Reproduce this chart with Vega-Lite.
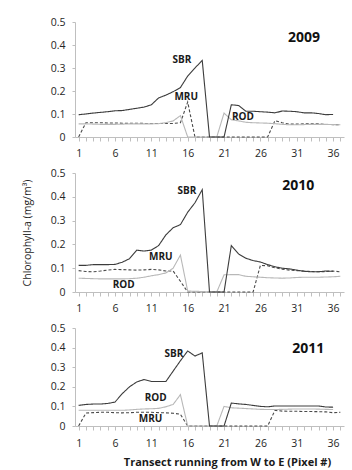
{
  "$schema": "https://vega.github.io/schema/vega-lite/v6.json",
  "background": "white",
  "padding": {"left": 22, "top": 17, "right": 2, "bottom": 2},
  "spacing": 36,
  "bounds": "flush",
  "datasets": {
    "wide": [
      {"year":2009,"x":1,"SBR":0.097,"ROD":0.057,"MRU":0},
      {"year":2009,"x":2,"SBR":0.100,"ROD":0.057,"MRU":0.062},
      {"year":2009,"x":3,"SBR":0.104,"ROD":0.056,"MRU":0.062},
      {"year":2009,"x":4,"SBR":0.107,"ROD":0.055,"MRU":0.062},
      {"year":2009,"x":5,"SBR":0.110,"ROD":0.055,"MRU":0.061},
      {"year":2009,"x":6,"SBR":0.114,"ROD":0.055,"MRU":0.061},
      {"year":2009,"x":7,"SBR":0.115,"ROD":0.056,"MRU":0.060},
      {"year":2009,"x":8,"SBR":0.120,"ROD":0.057,"MRU":0.060},
      {"year":2009,"x":9,"SBR":0.125,"ROD":0.057,"MRU":0.060},
      {"year":2009,"x":10,"SBR":0.130,"ROD":0.057,"MRU":0.059},
      {"year":2009,"x":11,"SBR":0.140,"ROD":0.057,"MRU":0.059},
      {"year":2009,"x":12,"SBR":0.170,"ROD":0.058,"MRU":0.059},
      {"year":2009,"x":13,"SBR":0.182,"ROD":0.062,"MRU":0.059},
      {"year":2009,"x":14,"SBR":0.197,"ROD":0.070,"MRU":0.059},
      {"year":2009,"x":15,"SBR":0.215,"ROD":0.093,"MRU":0.062},
      {"year":2009,"x":16,"SBR":0.265,"ROD":0,"MRU":0.152},
      {"year":2009,"x":17,"SBR":0.300,"ROD":0,"MRU":0},
      {"year":2009,"x":18,"SBR":0.333,"ROD":0,"MRU":0},
      {"year":2009,"x":19,"SBR":0,"ROD":0,"MRU":0},
      {"year":2009,"x":20,"SBR":0,"ROD":0,"MRU":0},
      {"year":2009,"x":21,"SBR":0,"ROD":0.104,"MRU":0},
      {"year":2009,"x":22,"SBR":0.140,"ROD":0.075,"MRU":0},
      {"year":2009,"x":23,"SBR":0.137,"ROD":0.070,"MRU":0},
      {"year":2009,"x":24,"SBR":0.112,"ROD":0.064,"MRU":0},
      {"year":2009,"x":25,"SBR":0.112,"ROD":0.062,"MRU":0},
      {"year":2009,"x":26,"SBR":0.110,"ROD":0.061,"MRU":0},
      {"year":2009,"x":27,"SBR":0.108,"ROD":0.060,"MRU":0},
      {"year":2009,"x":28,"SBR":0.105,"ROD":0.058,"MRU":0.071},
      {"year":2009,"x":29,"SBR":0.113,"ROD":0.055,"MRU":0.062},
      {"year":2009,"x":30,"SBR":0.112,"ROD":0.053,"MRU":0.056},
      {"year":2009,"x":31,"SBR":0.110,"ROD":0.053,"MRU":0.056},
      {"year":2009,"x":32,"SBR":0.105,"ROD":0.054,"MRU":0.057},
      {"year":2009,"x":33,"SBR":0.105,"ROD":0.055,"MRU":0.057},
      {"year":2009,"x":34,"SBR":0.102,"ROD":0.055,"MRU":0.057},
      {"year":2009,"x":35,"SBR":0.097,"ROD":0.055,"MRU":0.055},
      {"year":2009,"x":36,"SBR":0.098,"ROD":0.054,"MRU":0.054},
      {"year":2009,"x":37,"ROD":0.053,"MRU":0.053},
      {"year":2010,"x":1,"SBR":0.112,"ROD":0.058,"MRU":0.090},
      {"year":2010,"x":2,"SBR":0.112,"ROD":0.057,"MRU":0.086},
      {"year":2010,"x":3,"SBR":0.115,"ROD":0.056,"MRU":0.085},
      {"year":2010,"x":4,"SBR":0.115,"ROD":0.055,"MRU":0.088},
      {"year":2010,"x":5,"SBR":0.115,"ROD":0.055,"MRU":0.092},
      {"year":2010,"x":6,"SBR":0.116,"ROD":0.055,"MRU":0.095},
      {"year":2010,"x":7,"SBR":0.125,"ROD":0.055,"MRU":0.094},
      {"year":2010,"x":8,"SBR":0.140,"ROD":0.056,"MRU":0.093},
      {"year":2010,"x":9,"SBR":0.176,"ROD":0.058,"MRU":0.092},
      {"year":2010,"x":10,"SBR":0.172,"ROD":0.062,"MRU":0.093},
      {"year":2010,"x":11,"SBR":0.176,"ROD":0.068,"MRU":0.095},
      {"year":2010,"x":12,"SBR":0.195,"ROD":0.073,"MRU":0.093},
      {"year":2010,"x":13,"SBR":0.240,"ROD":0.080,"MRU":0.088},
      {"year":2010,"x":14,"SBR":0.270,"ROD":0.100,"MRU":0.088},
      {"year":2010,"x":15,"SBR":0.283,"ROD":0.155,"MRU":0.045},
      {"year":2010,"x":16,"SBR":0.335,"ROD":0.004,"MRU":0},
      {"year":2010,"x":17,"SBR":0.375,"ROD":0.003,"MRU":0},
      {"year":2010,"x":18,"SBR":0.430,"ROD":0.002,"MRU":0},
      {"year":2010,"x":19,"SBR":0,"ROD":0,"MRU":0},
      {"year":2010,"x":20,"SBR":0,"ROD":0,"MRU":0},
      {"year":2010,"x":21,"SBR":0,"ROD":0.072,"MRU":0},
      {"year":2010,"x":22,"SBR":0.195,"ROD":0.073,"MRU":0},
      {"year":2010,"x":23,"SBR":0.160,"ROD":0.073,"MRU":0},
      {"year":2010,"x":24,"SBR":0.142,"ROD":0.066,"MRU":0},
      {"year":2010,"x":25,"SBR":0.132,"ROD":0.064,"MRU":0},
      {"year":2010,"x":26,"SBR":0.126,"ROD":0.062,"MRU":0.112},
      {"year":2010,"x":27,"SBR":0.115,"ROD":0.060,"MRU":0.110},
      {"year":2010,"x":28,"SBR":0.106,"ROD":0.059,"MRU":0.102},
      {"year":2010,"x":29,"SBR":0.100,"ROD":0.058,"MRU":0.096},
      {"year":2010,"x":30,"SBR":0.097,"ROD":0.059,"MRU":0.092},
      {"year":2010,"x":31,"SBR":0.092,"ROD":0.061,"MRU":0.090},
      {"year":2010,"x":32,"SBR":0.087,"ROD":0.062,"MRU":0.088},
      {"year":2010,"x":33,"SBR":0.085,"ROD":0.062,"MRU":0.086},
      {"year":2010,"x":34,"SBR":0.085,"ROD":0.062,"MRU":0.085},
      {"year":2010,"x":35,"SBR":0.088,"ROD":0.063,"MRU":0.086},
      {"year":2010,"x":36,"SBR":0.087,"ROD":0.064,"MRU":0.088},
      {"year":2010,"x":37,"ROD":0.066,"MRU":0.085},
      {"year":2011,"x":1,"SBR":0.105,"ROD":0.080,"MRU":0},
      {"year":2011,"x":2,"SBR":0.110,"ROD":0.080,"MRU":0.066},
      {"year":2011,"x":3,"SBR":0.112,"ROD":0.080,"MRU":0.068},
      {"year":2011,"x":4,"SBR":0.112,"ROD":0.080,"MRU":0.070},
      {"year":2011,"x":5,"SBR":0.115,"ROD":0.080,"MRU":0.070},
      {"year":2011,"x":6,"SBR":0.122,"ROD":0.080,"MRU":0.068},
      {"year":2011,"x":7,"SBR":0.165,"ROD":0.080,"MRU":0.067},
      {"year":2011,"x":8,"SBR":0.200,"ROD":0.082,"MRU":0.068},
      {"year":2011,"x":9,"SBR":0.225,"ROD":0.085,"MRU":0.070},
      {"year":2011,"x":10,"SBR":0.237,"ROD":0.087,"MRU":0.070},
      {"year":2011,"x":11,"SBR":0.227,"ROD":0.088,"MRU":0.070},
      {"year":2011,"x":12,"SBR":0.227,"ROD":0.090,"MRU":0.068},
      {"year":2011,"x":13,"SBR":0.227,"ROD":0.098,"MRU":0.067},
      {"year":2011,"x":14,"SBR":0.280,"ROD":0.110,"MRU":0.065},
      {"year":2011,"x":15,"SBR":0.333,"ROD":0.160,"MRU":0.060},
      {"year":2011,"x":16,"SBR":0.383,"ROD":0,"MRU":0},
      {"year":2011,"x":17,"SBR":0.357,"ROD":0,"MRU":0},
      {"year":2011,"x":18,"SBR":0.373,"ROD":0,"MRU":0},
      {"year":2011,"x":19,"SBR":0,"ROD":0,"MRU":0},
      {"year":2011,"x":20,"SBR":0,"ROD":0,"MRU":0},
      {"year":2011,"x":21,"SBR":0,"ROD":0.100,"MRU":0},
      {"year":2011,"x":22,"SBR":0.117,"ROD":0.093,"MRU":0},
      {"year":2011,"x":23,"SBR":0.113,"ROD":0.091,"MRU":0},
      {"year":2011,"x":24,"SBR":0.110,"ROD":0.089,"MRU":0},
      {"year":2011,"x":25,"SBR":0.105,"ROD":0.087,"MRU":0},
      {"year":2011,"x":26,"SBR":0.100,"ROD":0.085,"MRU":0},
      {"year":2011,"x":27,"SBR":0.098,"ROD":0.084,"MRU":0},
      {"year":2011,"x":28,"SBR":0.102,"ROD":0.084,"MRU":0.080},
      {"year":2011,"x":29,"SBR":0.102,"ROD":0.085,"MRU":0.076},
      {"year":2011,"x":30,"SBR":0.102,"ROD":0.086,"MRU":0.075},
      {"year":2011,"x":31,"SBR":0.102,"ROD":0.087,"MRU":0.075},
      {"year":2011,"x":32,"SBR":0.102,"ROD":0.087,"MRU":0.074},
      {"year":2011,"x":33,"SBR":0.102,"ROD":0.087,"MRU":0.074},
      {"year":2011,"x":34,"SBR":0.102,"ROD":0.086,"MRU":0.073},
      {"year":2011,"x":35,"SBR":0.097,"ROD":0.085,"MRU":0.072},
      {"year":2011,"x":36,"SBR":0.096,"ROD":0.084,"MRU":0.068},
      {"year":2011,"x":37,"MRU":0.070}
    ],
    "labels": [
      {"year":2009,"x":15.2,"v":0.335,"label":"SBR"},
      {"year":2009,"x":15.8,"v":0.174,"label":"MRU"},
      {"year":2009,"x":23.6,"v":0.087,"label":"ROD"},
      {"year":2010,"x":15.9,"v":0.424,"label":"SBR"},
      {"year":2010,"x":12.3,"v":0.148,"label":"MRU"},
      {"year":2010,"x":7.2,"v":0.030,"label":"ROD"},
      {"year":2011,"x":14.1,"v":0.365,"label":"SBR"},
      {"year":2011,"x":11.6,"v":0.145,"label":"ROD"},
      {"year":2011,"x":10.9,"v":0.035,"label":"MRU"}
    ],
    "years": [
      {"year":2009,"x":32.0,"v":0.430,"label":"2009"},
      {"year":2010,"x":31.2,"v":0.445,"label":"2010"},
      {"year":2011,"x":32.6,"v":0.395,"label":"2011"}
    ]
  },
  "vconcat": [
    {
      "width": 269, "height": 115,
      "encoding": {
        "x": {"field": "x", "type": "quantitative", "scale": {"domain": [0.5, 37.5], "nice": false, "zero": false},
          "axis": {"values": [1,2,3,4,5,6,7,8,9,10,11,12,13,14,15,16,17,18,19,20,21,22,23,24,25,26,27,28,29,30,31,32,33,34,35,36,37], "labelExpr": "(datum.value - 1) % 5 == 0 ? datum.label : ''", "title": null, "tickSize": 4, "labelPadding": 7, "labelOverlap": false, "labelFlush": false, "labelBound": false}},
        "y": {"field": "v", "type": "quantitative", "scale": {"domain": [0, 0.5], "nice": false},
          "axis": {"values": [0, 0.1, 0.2, 0.3, 0.4, 0.5], "format": ".1~f", "title": null, "tickSize": 3, "labelPadding": 7, "labelOverlap": false}}
      },
      "layer": [
        {
          "data": {"name": "wide"},
          "transform": [{"filter": "datum.year == 2009"}, {"fold": ["MRU", "ROD", "SBR"], "as": ["series", "v"]}],
          "mark": {"type": "line", "strokeWidth": 1.1},
          "encoding": {
            "color": {"field": "series", "type": "nominal", "scale": {"domain": ["SBR", "ROD", "MRU"], "range": ["#3c3c3c", "#b8b8b8", "#4a4a4a"]}, "legend": null},
            "strokeDash": {"field": "series", "type": "nominal", "scale": {"domain": ["SBR", "ROD", "MRU"], "range": [[1, 0], [1, 0], [3, 2]]}, "legend": null}
          }
        },
        {
          "data": {"name": "labels"},
          "transform": [{"filter": "datum.year == 2009"}],
          "mark": {"type": "text", "fontWeight": "bold", "fontSize": 10, "color": "#1a1a1a"},
          "encoding": {"text": {"field": "label"}}
        },
        {
          "data": {"name": "years"},
          "transform": [{"filter": "datum.year == 2009"}],
          "mark": {"type": "text", "fontWeight": "bold", "fontSize": 14, "color": "#111111"},
          "encoding": {"text": {"field": "label"}}
        }
      ]
    },
    {
      "width": 269, "height": 119,
      "encoding": {
        "x": {"field": "x", "type": "quantitative", "scale": {"domain": [0.5, 37.5], "nice": false, "zero": false},
          "axis": {"values": [1,2,3,4,5,6,7,8,9,10,11,12,13,14,15,16,17,18,19,20,21,22,23,24,25,26,27,28,29,30,31,32,33,34,35,36,37], "labelExpr": "(datum.value - 1) % 5 == 0 ? datum.label : ''", "title": null, "tickSize": 4, "labelPadding": 7, "labelOverlap": false, "labelFlush": false, "labelBound": false}},
        "y": {"field": "v", "type": "quantitative", "scale": {"domain": [0, 0.5], "nice": false},
          "axis": {"values": [0, 0.1, 0.2, 0.3, 0.4, 0.5], "format": ".1~f", "title": "Chlorophyll-a (mg/m³)", "titleFontWeight": "normal", "titleFontSize": 10.5, "titleColor": "#262626", "titlePadding": 18, "tickSize": 3, "labelPadding": 7, "labelOverlap": false}}
      },
      "layer": [
        {
          "data": {"name": "wide"},
          "transform": [{"filter": "datum.year == 2010"}, {"fold": ["MRU", "ROD", "SBR"], "as": ["series", "v"]}],
          "mark": {"type": "line", "strokeWidth": 1.1},
          "encoding": {
            "color": {"field": "series", "type": "nominal", "scale": {"domain": ["SBR", "ROD", "MRU"], "range": ["#3c3c3c", "#b8b8b8", "#4a4a4a"]}, "legend": null},
            "strokeDash": {"field": "series", "type": "nominal", "scale": {"domain": ["SBR", "ROD", "MRU"], "range": [[1, 0], [1, 0], [3, 2]]}, "legend": null}
          }
        },
        {
          "data": {"name": "labels"},
          "transform": [{"filter": "datum.year == 2010"}],
          "mark": {"type": "text", "fontWeight": "bold", "fontSize": 10, "color": "#1a1a1a"},
          "encoding": {"text": {"field": "label"}}
        },
        {
          "data": {"name": "years"},
          "transform": [{"filter": "datum.year == 2010"}],
          "mark": {"type": "text", "fontWeight": "bold", "fontSize": 14, "color": "#111111"},
          "encoding": {"text": {"field": "label"}}
        }
      ]
    },
    {
      "width": 269, "height": 98,
      "encoding": {
        "x": {"field": "x", "type": "quantitative", "scale": {"domain": [0.5, 37.5], "nice": false, "zero": false},
          "axis": {"values": [1,2,3,4,5,6,7,8,9,10,11,12,13,14,15,16,17,18,19,20,21,22,23,24,25,26,27,28,29,30,31,32,33,34,35,36,37], "labelExpr": "(datum.value - 1) % 5 == 0 ? datum.label : ''", "title": "Transect running from W to E (Pixel #)", "titleFontWeight": "bold", "titleFontSize": 11, "titleColor": "#1a1a1a", "titlePadding": 8, "titleX": 152, "tickSize": 4, "labelPadding": 8, "labelOverlap": false, "labelFlush": false, "labelBound": false}},
        "y": {"field": "v", "type": "quantitative", "scale": {"domain": [0, 0.5], "nice": false},
          "axis": {"values": [0, 0.1, 0.2, 0.3, 0.4, 0.5], "format": ".1~f", "title": null, "tickSize": 3, "labelPadding": 7, "labelOverlap": false}}
      },
      "layer": [
        {
          "data": {"name": "wide"},
          "transform": [{"filter": "datum.year == 2011"}, {"fold": ["MRU", "ROD", "SBR"], "as": ["series", "v"]}],
          "mark": {"type": "line", "strokeWidth": 1.1},
          "encoding": {
            "color": {"field": "series", "type": "nominal", "scale": {"domain": ["SBR", "ROD", "MRU"], "range": ["#3c3c3c", "#b8b8b8", "#4a4a4a"]}, "legend": null},
            "strokeDash": {"field": "series", "type": "nominal", "scale": {"domain": ["SBR", "ROD", "MRU"], "range": [[1, 0], [1, 0], [3, 2]]}, "legend": null}
          }
        },
        {
          "data": {"name": "labels"},
          "transform": [{"filter": "datum.year == 2011"}],
          "mark": {"type": "text", "fontWeight": "bold", "fontSize": 10, "color": "#1a1a1a"},
          "encoding": {"text": {"field": "label"}}
        },
        {
          "data": {"name": "years"},
          "transform": [{"filter": "datum.year == 2011"}],
          "mark": {"type": "text", "fontWeight": "bold", "fontSize": 14, "color": "#111111"},
          "encoding": {"text": {"field": "label"}}
        }
      ]
    }
  ],
  "config": {
    "font": "Open Sans",
    "view": {"stroke": null},
    "axis": {"domainColor": "#bfbfbf", "tickColor": "#bfbfbf", "grid": false, "labelColor": "#262626", "labelFont": "Open Sans", "labelFontSize": 10.5, "titleFont": "Open Sans"}
  }
}
